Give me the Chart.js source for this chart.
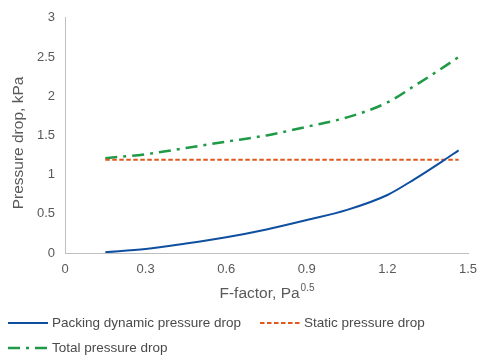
<!DOCTYPE html>
<html>
<head>
<meta charset="utf-8">
<script src="https://cdn.jsdelivr.net/npm/chart.js@4"></script>
<style>
  html, body { margin: 0; padding: 0; background: #fff; }
  #wrap { width: 497px; height: 360px; position: relative; }
</style>
</head>
<body>
<div id="wrap"><canvas id="c" width="497" height="360"></canvas></div>
<script>
const fFactor = [0.15, 0.3, 0.45, 0.6, 0.75, 0.9, 1.05, 1.2, 1.3, 1.4, 1.465];
const dynamicDrop = [0.01, 0.05, 0.12, 0.20, 0.30, 0.42, 0.55, 0.74, 0.94, 1.16, 1.31];
const staticDrop = [1.19, 1.19, 1.19, 1.19, 1.19, 1.19, 1.19, 1.19, 1.19, 1.19, 1.19];
const totalDrop = [1.21, 1.26, 1.34, 1.42, 1.50, 1.61, 1.73, 1.92, 2.13, 2.35, 2.50];
const seriesNames = ['Packing dynamic pressure drop', 'Static pressure drop', 'Total pressure drop'];
const xTicks = [0, 0.3, 0.6, 0.9, 1.2, 1.5];
const yTicks = [0, 0.5, 1, 1.5, 2, 2.5, 3];
const xTitle = 'F-factor, Pa';
const xTitleSup = '0.5';
const yTitle = 'Pressure drop, kPa';

const FONT = "'Liberation Sans', Arial, sans-serif";
const TEXT = '#595959';

function pts(ys) { return fFactor.map((x, i) => ({ x: x, y: ys[i] })); }

const customLegend = {
  id: 'customLegend',
  afterDraw(chart) {
    const ctx = chart.ctx;
    const items = [
      { ds: 0, x: 8, y: 323 },
      { ds: 1, x: 260, y: 323 },
      { ds: 2, x: 8, y: 348 }
    ];
    ctx.save();
    ctx.font = '13.5px ' + FONT;
    ctx.textBaseline = 'middle';
    items.forEach(it => {
      const d = chart.data.datasets[it.ds];
      ctx.strokeStyle = d.borderColor;
      ctx.lineWidth = d.borderWidth;
      ctx.setLineDash(d.borderDash || []);
      ctx.beginPath();
      ctx.moveTo(it.x, it.y);
      ctx.lineTo(it.x + 40, it.y);
      ctx.stroke();
      ctx.setLineDash([]);
      ctx.fillStyle = '#4a4a4a';
      ctx.textAlign = 'left';
      ctx.fillText(d.label, it.x + 44, it.y);
    });
    // x-axis title with superscript
    const ca = chart.chartArea;
    ctx.font = '15.5px ' + FONT;
    const w1 = ctx.measureText(xTitle).width;
    ctx.font = '10px ' + FONT;
    const w2 = ctx.measureText(xTitleSup).width;
    const cx = (ca.left + ca.right) / 2;
    const startX = cx - (w1 + w2) / 2;
    ctx.fillStyle = TEXT;
    ctx.textBaseline = 'alphabetic';
    ctx.font = '15.5px ' + FONT;
    ctx.fillText(xTitle, startX, 298);
    ctx.font = '10px ' + FONT;
    ctx.fillText(xTitleSup, startX + w1 + 1, 291);
    // y-axis title
    ctx.translate(18.5, 143);
    ctx.rotate(-Math.PI / 2);
    ctx.font = '15.5px ' + FONT;
    ctx.textAlign = 'center';
    ctx.textBaseline = 'middle';
    ctx.fillText(yTitle, 0, 0);
    ctx.restore();
  }
};

new Chart(document.getElementById('c'), {
  type: 'line',
  data: {
    datasets: [
      { label: seriesNames[0], data: pts(dynamicDrop), borderColor: '#0F4FA0', borderWidth: 2, borderDash: [], pointRadius: 0, tension: 0.4, cubicInterpolationMode: 'monotone', fill: false },
      { label: seriesNames[1], data: pts(staticDrop), borderColor: '#E0581E', borderWidth: 2, borderDash: [4.5, 2.5], pointRadius: 0, tension: 0, fill: false },
      { label: seriesNames[2], data: pts(totalDrop), borderColor: '#1F9A47', borderWidth: 2.5, borderDash: [12, 6, 3, 6], pointRadius: 0, tension: 0.4, cubicInterpolationMode: 'monotone', fill: false }
    ]
  },
  options: {
    responsive: false,
    animation: false,
    devicePixelRatio: 1,
    layout: { padding: { left: 0, right: 29, top: 17, bottom: 57 } },
    plugins: { legend: { display: false }, tooltip: { enabled: false } },
    scales: {
      x: {
        type: 'linear', min: 0, max: 1.5,
        afterBuildTicks(scale) { scale.ticks = xTicks.map(v => ({ value: v })); },
        afterFit(scale) { scale.height = 50; },
        grid: { display: false, drawTicks: false },
        border: { display: true, color: '#BFBFBF', width: 1 },
        ticks: { color: TEXT, font: { family: FONT, size: 13 }, padding: 9, maxRotation: 0, callback: v => String(v) },
        title: { display: false }
      },
      y: {
        type: 'linear', min: 0, max: 3,
        afterBuildTicks(scale) { scale.ticks = yTicks.map(v => ({ value: v })); },
        afterFit(scale) { scale.width = 65; },
        grid: { display: false, drawTicks: false },
        border: { display: true, color: '#BFBFBF', width: 1 },
        ticks: { color: TEXT, font: { family: FONT, size: 13 }, padding: 10, callback: v => String(v) },
        title: { display: false }
      }
    }
  },
  plugins: [customLegend]
});
</script>
</body>
</html>
